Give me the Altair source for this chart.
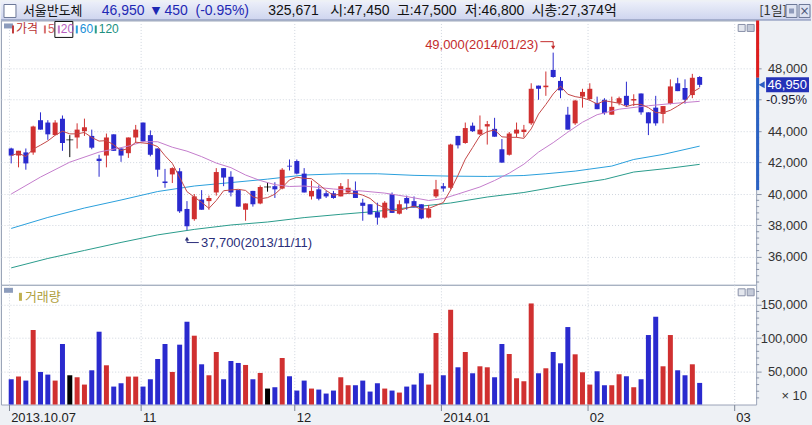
import altair as alt
import pandas as pd

# ---------------- values ----------------
stock_name = "서울반도체"
last_price = 46950
price_change = 450
change_pct = -0.95
last_volume = 325671
day_open = 47450
day_high = 47500
day_low = 46800
market_cap = "27,374억"
period_label = "[1일]"
prev_close = 47400
band_low = 40250

opens = [42900, 42450, 42650, 42650, 44700, 44550, 43750, 44800, 43450, 43600,
         44000, 43700, 42250, 42450, 43800, 42900, 42600, 43600, 44550, 43750,
         42900, 40800, 41250, 41450, 39050, 38400, 39650, 39550, 40100, 41650,
         41100, 40250, 39000, 40200, 39400, 40450, 40500, 40350, 41800, 42100,
         41300, 39850, 40300, 40050, 40050, 39850, 40100, 40200, 39450, 39350,
         38850, 38500, 40000, 38750, 39750, 39550, 39350, 38500, 39850, 40500,
         40400, 43700, 43250, 44350, 43800, 44300, 44150, 42850, 42500, 43850,
         43950, 44500, 46900, 46800, 47900, 47200, 45050, 44500, 46200, 46050,
         45800, 46000, 45050, 45800, 46250, 45950, 46400, 45200, 45500, 45100,
         45750, 47050, 46750, 46300, 47450]
highs = [42950, 42750, 42900, 44350, 45200, 44700, 44700, 45000, 43750, 44500,
         44800, 44100, 42500, 43850, 43800, 42900, 43600, 44400, 44550, 44050,
         42900, 41600, 41700, 41650, 39550, 40000, 40250, 39900, 41650, 41650,
         41450, 40250, 39400, 40200, 40550, 40700, 40750, 41650, 42200, 42200,
         41650, 40850, 40550, 40200, 40200, 40700, 40950, 40800, 39700, 39350,
         39450, 39550, 40100, 39600, 39900, 39850, 39350, 39300, 40900, 40700,
         43200, 43700, 44550, 44550, 45000, 44650, 44850, 43500, 43950, 44550,
         44400, 47050, 46900, 47800, 49000, 47450, 45550, 46000, 46700, 47050,
         46200, 46100, 46200, 46200, 47150, 46350, 46400, 45200, 46250, 45600,
         47300, 47400, 47300, 47650, 47500]
lows = [41950, 41700, 41550, 42500, 44100, 43450, 43750, 42750, 42350, 42900,
        43700, 42850, 41100, 41700, 42750, 42050, 42300, 43250, 43300, 42400,
        41100, 40400, 40700, 38800, 37700, 38300, 39000, 39000, 39900, 40500,
        39850, 39200, 38300, 39200, 39350, 40150, 39750, 40300, 41500, 41250,
        40100, 39650, 39600, 39750, 39700, 39850, 40050, 39750, 38300, 38700,
        38050, 38450, 38800, 38700, 39000, 39150, 38400, 38450, 39750, 40150,
        40300, 42900, 43200, 43950, 43750, 43150, 43650, 42000, 42450, 43600,
        43600, 44400, 46000, 46250, 47400, 46100, 44100, 44400, 45500, 45950,
        45400, 45050, 45050, 45650, 45550, 45600, 45050, 43750, 44350, 44500,
        45700, 46550, 45750, 46100, 46800]
closes = [42450, 42750, 41950, 44300, 44100, 43800, 44550, 43250, 43450, 44100,
          44250, 42950, 42100, 43600, 42750, 42450, 43600, 44100, 43350, 42500,
          41550, 40700, 41650, 38900, 37950, 39850, 39000, 39750, 41400, 41050,
          40100, 39200, 39400, 39350, 40450, 40450, 40300, 41550, 41750, 41300,
          40100, 40200, 39700, 39850, 39750, 40500, 40400, 39750, 39250, 38700,
          38500, 39450, 38800, 39350, 39400, 39150, 38450, 39050, 40300, 40350,
          43150, 43100, 44200, 44000, 44100, 44450, 43650, 42000, 43850, 44100,
          44100, 46700, 46700, 46900, 47450, 46600, 44100, 45950, 46500, 46700,
          45400, 45150, 45550, 46100, 45650, 46050, 45200, 44500, 44500, 45600,
          46850, 46550, 46000, 47400, 46950]
volumes = [38000, 42000, 36000, 112000, 49000, 45000, 36000, 91000, 44000, 41000,
           30000, 51500, 109500, 59000, 27000, 32000, 42000, 42000, 27000, 38000,
           68500, 91000, 49000, 90000, 124500, 103500, 60500, 44000, 79000, 38000,
           65500, 62500, 59500, 38000, 47500, 24000, 26000, 70000, 42500, 21000,
           36000, 24000, 22500, 16500, 21000, 41000, 29000, 29000, 36000, 19500,
           32000, 24000, 21000, 18000, 27000, 30000, 47000, 30000, 107500, 44000,
           142500, 56000, 79000, 47000, 57500, 56000, 41000, 91000, 76000, 39500,
           35000, 152000, 47000, 54500, 79000, 62000, 116500, 75500, 48500, 30000,
           50000, 29000, 29000, 45500, 42500, 26000, 38000, 104500, 132000, 57500,
           104500, 51500, 44000, 60500, 32500]

ma20_idx = [0, 4, 8, 12, 16, 18, 20, 22, 24, 26, 28, 30, 32, 34, 36, 38, 40, 44, 48, 51,
            54, 57, 59, 61, 64, 66, 68, 70, 72, 74, 76, 78, 80, 83, 87, 90, 94]
ma20_val = [40000, 41080, 42030, 42670, 43050, 43330, 43330, 42980, 42730, 42380,
            41970, 41680, 41210, 40860, 40600, 40480, 40510, 40320, 40190, 40060,
            39840, 39590, 39710, 40000, 40450, 40860, 41330, 41900, 42670, 43270,
            43940, 44570, 45050, 45400, 45620, 45750, 45900]
ma60_idx = [0, 5, 10, 15, 20, 25, 30, 35, 40, 45, 50, 55, 60, 65, 70, 73, 77, 82, 85, 89, 94]
ma60_val = [37810, 38510, 39110, 39620, 40160, 40510, 40730, 40950, 41210, 41290,
            41290, 41190, 41140, 41120, 41180, 41290, 41460, 41780, 42200, 42520, 43050]
ma120_idx = [0, 5, 10, 15, 20, 25, 30, 35, 40, 45, 50, 55, 60, 65, 70, 75, 81, 85, 90, 94]
ma120_val = [35300, 35900, 36410, 36920, 37400, 37750, 38030, 38220, 38500, 38710,
             38900, 39180, 39430, 39810, 40100, 40510, 40930, 41400, 41650, 41890]

month_idx = [0, 18, 39, 59, 79, 99]
month_labels = ["2013.10.07", "11", "12", "2014.01", "02", "03"]
price_ticks = [36000, 38000, 40000, 42000, 44000, 46000, 48000]
price_minor_step = 400
volume_ticks = [50000, 100000, 150000]
volume_minor_step = 10000

high_point = (74, 49000, "2014/01/23")
low_point = (24, 37700, "2013/11/11")

# ---------------- styling ----------------
FONT = "'Liberation Sans', Arial, 'Noto Sans CJK KR', sans-serif"
KFONT = "'Noto Sans CJK KR', 'Liberation Sans', sans-serif"
RED, BLUE, BLACK = "#d03030", "#2a2ace", "#000000"
MA5C, MA20C, MA60C, MA120C = "#c44848", "#c47ccc", "#2aa0dc", "#2a9c8c"
GRID = "#cfd5de"
FRAME = "#9aa4b8"
TICKC = "#8a94a8"
BG = "#eef1f5"
W, HP, HV = 757, 265, 120
XDOM = [-0.712, 101.03]
PDOM = [34222, 51047]
VDOM = [0, 180000]
PPX = (PDOM[1] - PDOM[0]) / HP
IPX = (XDOM[1] - XDOM[0]) / W
tick_pos = [m - 0.35 for m in month_idx]

df = pd.DataFrame({"i": list(range(len(opens))), "open": opens, "high": highs,
                   "low": lows, "close": closes, "volume": volumes})
df["dir"] = ["up" if c > o else ("down" if c < o else "flat") for o, c in zip(opens, closes)]
one = pd.DataFrame({"k": [0]})

color = alt.Color("dir:N", scale=alt.Scale(domain=["up", "down", "flat"], range=[RED, BLUE, BLACK]), legend=None)
xscale = alt.Scale(domain=XDOM, nice=False, zero=False)
px_axis = alt.Axis(values=tick_pos, labels=False, ticks=False, domain=False, grid=True,
                   gridDash=[1, 2], gridColor=GRID, title=None)
pscale = alt.Scale(domain=PDOM, nice=False, zero=False)
py_axis = alt.Axis(orient="right", values=price_ticks,
                   labelExpr="datum.value == 46000 ? '' : format(datum.value, ',')",
                   grid=True, gridDash=[1, 2], gridColor=GRID, domain=False, tickSize=5,
                   tickColor=TICKC, labelAlign="right", labelBaseline="middle", labelPadding=46,
                   labelFont=FONT, labelFontSize=13, labelColor="#333333", title=None)


def PX(field="i:Q"):
    return alt.X(field, scale=xscale, axis=px_axis)


def PY(field):
    return alt.Y(field, scale=pscale, axis=py_axis)


def text_at(data, txt, x, y, col, size=13, font=FONT, align="left"):
    return alt.Chart(data).mark_text(text=txt, align=align, baseline="middle", font=font,
                                     fontSize=size, color=col).encode(x=alt.value(x), y=alt.value(y))


def box_at(x1, x2, y1, y2, fill, stroke="", sw=1, fo=1.0):
    kw = dict(fill=fill, fillOpacity=fo)
    if stroke:
        kw.update(stroke=stroke, strokeWidth=sw)
    return alt.Chart(one).mark_rect(**kw).encode(x=alt.value(x1), x2=alt.value(x2),
                                                 y=alt.value(y1), y2=alt.value(y2))


# ---------------- header bar ----------------
grad = alt.LinearGradient(gradient="linear", x1=0, x2=0, y1=0, y2=1,
                          stops=[alt.GradientStop(color="#eceff9", offset=0),
                                 alt.GradientStop(color="#cdd4ee", offset=1)])
hb = "#1e28b4"
header = alt.layer(
    alt.Chart(one).mark_rect(color=grad).encode(x=alt.value(0), x2=alt.value(812), y=alt.value(0), y2=alt.value(19)),
    alt.Chart(one).mark_rule(color="#7d8bb0").encode(x=alt.value(0), x2=alt.value(812), y=alt.value(18.5)),
    box_at(3, 15, 3, 16, "white", "#6c7898"),
    text_at(one, stock_name, 22, 10, "#111111", 13, KFONT),
    text_at(one, f"{last_price:,}", 101, 10, hb, 14),
    text_at(one, "▼", 151, 10, hb, 11, "DejaVu Sans"),
    text_at(one, f"{price_change:,}", 164, 10, hb, 14),
    text_at(one, f"({change_pct:.2f}%)", 195, 10, hb, 14),
    text_at(one, f"{last_volume:,}", 268, 10, "#111111", 14),
    text_at(one, f"시:{day_open:,}", 330, 10, "#111111", 14),
    text_at(one, f"고:{day_high:,}", 397, 10, "#111111", 14),
    text_at(one, f"저:{day_low:,}", 465, 10, "#111111", 14),
    text_at(one, f"시총:{market_cap}", 532, 10, "#111111", 14),
    text_at(one, period_label, 760, 10, "#333333", 13, KFONT),
    box_at(787, 798, 3, 16, "#dfe4f2", "#6c7898"),
    box_at(800, 811, 3, 16, "#dfe4f2", "#6c7898"),
    text_at(one, "×", 805.5, 9.5, "#4a5678", 12, "DejaVu Sans", "center"),
    box_at(790, 795, 7, 12, "#8f9bbb"),
).properties(width=812, height=19, view=alt.ViewBackground(stroke="transparent"))

# ---------------- price panel ----------------
wicks = alt.Chart(df).mark_rule(strokeWidth=1).encode(x=PX(), y=PY("low:Q"), y2="high:Q", color=color)
bodies = alt.Chart(df).mark_bar(size=5).encode(x=PX(), y=PY("open:Q"), y2="close:Q", color=color)
doji = alt.Chart(df).transform_filter("datum.open == datum.close").mark_tick(
    orient="horizontal", size=7, thickness=1).encode(x=PX(), y=PY("close:Q"), color=color)
ma5 = alt.Chart(df).transform_window(ma5="mean(close)", frame=[-4, 0], sort=[alt.SortField("i")]).mark_line(
    color=MA5C, strokeWidth=1).encode(x=PX(), y=PY("ma5:Q"))


def ma_line(ix, vals, col):
    d = pd.DataFrame({"i": ix, "v": vals})
    return alt.Chart(d).mark_line(color=col, strokeWidth=1).encode(x=PX(), y=PY("v:Q"))


# minor ticks on the right-hand axes
p_minor = pd.DataFrame({"v": [v for v in range(34400, 51000, price_minor_step) if v % 2000 != 0]})
v_minor = pd.DataFrame({"v": [v for v in range(10000, 180000, volume_minor_step) if v % 50000 != 0]})
p_minor_ticks = alt.Chart(p_minor).mark_rule(color=TICKC, strokeWidth=1).encode(
    x=alt.value(757), x2=alt.value(760), y=PY("v:Q"))

cur_df = pd.DataFrame({"cur": [last_price], "pct": [f"{change_pct:.2f}%"]})
ind_df = pd.DataFrame({"a": [PDOM[1], prev_close], "b": [prev_close, band_low]})
indicator_red = alt.Chart(ind_df.iloc[[0]]).mark_rule(color="#e01c1c", strokeWidth=3).encode(
    x=alt.value(758.5), y=PY("a:Q"), y2="b:Q")
indicator_blue = alt.Chart(ind_df.iloc[[1]]).mark_rule(color="#2a62c4", strokeWidth=3).encode(
    x=alt.value(758.5), y=PY("a:Q"), y2="b:Q")
cur_box = alt.Chart(cur_df).transform_calculate(
    top=f"datum.cur + {7.5 * PPX}", bot=f"datum.cur - {7.5 * PPX}").mark_rect(color="#2432b8").encode(
    x=alt.value(767), x2=alt.value(810), y=PY("top:Q"), y2="bot:Q")
cur_tri = alt.Chart(cur_df).mark_point(shape="triangle-left", filled=True, size=50, color="#2a5cc4", opacity=1).encode(
    x=alt.value(762.5), y=PY("cur:Q"))
cur_txt = alt.Chart(cur_df).mark_text(align="right", baseline="middle", font=FONT, fontSize=13, color="white").encode(
    x=alt.value(808), y=PY("cur:Q"), text=alt.Text("cur:Q", format=","))
pct_txt = alt.Chart(cur_df).mark_text(align="right", baseline="middle", font=FONT, fontSize=13, dy=15,
                                      color="#222233").encode(x=alt.value(808), y=PY("cur:Q"), text="pct:N")

hi_i, hi_p, hi_d = high_point
lo_i, lo_p, lo_d = low_point
ann_df = pd.DataFrame({"i": [hi_i, lo_i], "p": [hi_p, lo_p],
                       "t": [f"{hi_p:,}({hi_d})", f"{lo_p:,}({lo_d})"]})
hi_txt = alt.Chart(ann_df.iloc[[0]]).mark_text(align="right", baseline="middle", font=FONT, fontSize=13,
                                                dx=-15, dy=-8, color="#c42c2c").encode(x=PX(), y=PY("p:Q"), text="t:N")
lo_txt = alt.Chart(ann_df.iloc[[1]]).mark_text(align="left", baseline="middle", font=FONT, fontSize=13,
                                                dx=14, dy=12.5, color="#2a2e7a").encode(x=PX(), y=PY("p:Q"), text="t:N")
hi_path = pd.DataFrame({"i": [hi_i - 13 * IPX, hi_i, hi_i], "p": [hi_p + 11 * PPX, hi_p + 11 * PPX, hi_p + 6 * PPX],
                        "o": [0, 1, 2]})
lo_path = pd.DataFrame({"i": [lo_i, lo_i, lo_i + 12 * IPX], "p": [lo_p - 8 * PPX, lo_p - 12.4 * PPX, lo_p - 12.4 * PPX],
                        "o": [0, 1, 2]})
hi_arrow = alt.Chart(hi_path).mark_line(color="#c42c2c", strokeWidth=1).encode(x=PX(), y=PY("p:Q"), order="o:Q")
lo_arrow = alt.Chart(lo_path).mark_line(color="#2a2e7a", strokeWidth=1).encode(x=PX(), y=PY("p:Q"), order="o:Q")
hi_head = alt.Chart(pd.DataFrame({"i": [hi_i], "p": [hi_p + 5 * PPX]})).mark_point(
    shape="triangle-down", filled=True, size=18, color="#c42c2c", opacity=1).encode(x=PX(), y=PY("p:Q"))
lo_head = alt.Chart(pd.DataFrame({"i": [lo_i], "p": [lo_p - 8.5 * PPX]})).mark_point(
    shape="triangle-up", filled=True, size=18, color="#2a2e7a", opacity=1).encode(x=PX(), y=PY("p:Q"))

legend_layers = [
    box_at(3, 12, 3, 8, "#8c9cbc"),
    box_at(11, 13, 5, 13, "#c03a3a"),
    text_at(one, "가격", 15, 9, "#b83434", 12, KFONT),
    box_at(43, 45, 5, 13, "#d87070"),
    text_at(one, "5", 47, 9, "#d06060", 12),
    box_at(54, 72, 1, 17, "white", "#111111", 1, 0.0),
    box_at(57, 59, 5, 13, "#c47ccc"),
    text_at(one, "20", 60, 9, "#b860c0", 12),
    box_at(75, 77, 5, 13, "#2aa0dc"),
    text_at(one, "60", 79, 9, "#2090d8", 12),
    box_at(94, 96, 5, 13, "#2a9c8c"),
    text_at(one, "120", 98, 9, "#209080", 12),
    box_at(739, 746, 4, 11, "#e4e7ee", "#8890a8"),
    box_at(748, 755, 4, 11, "#c4cad8", "#8890a8"),
]

price = alt.layer(
    ma_line(ma120_idx, ma120_val, MA120C),
    ma_line(ma60_idx, ma60_val, MA60C),
    wicks, bodies, doji,
    ma_line(ma20_idx, ma20_val, MA20C),
    ma5,
    hi_arrow, lo_arrow, hi_head, lo_head, hi_txt, lo_txt,
    p_minor_ticks,
    indicator_red, indicator_blue, cur_box, cur_tri, cur_txt, pct_txt,
    *legend_layers,
).properties(width=W, height=HP, view=alt.ViewBackground(fill="white", stroke=FRAME))

# ---------------- volume panel ----------------
label_expr = " : ".join(f"round(datum.value) == {m} ? '{lab}'" for m, lab in zip(month_idx, month_labels)) + " : ''"
vx_axis = alt.Axis(values=tick_pos, labelExpr=label_expr, grid=True, gridDash=[1, 2], gridColor=GRID,
                   domain=False, ticks=True, tickSize=6, tickColor="#7a8494", labelAlign="left",
                   labelBaseline="top", labelOffset=2, labelPadding=1, labelFlush=False, labelOverlap=False,
                   labelFont=FONT, labelFontSize=13, labelColor="#222222", title=None)
vscale = alt.Scale(domain=VDOM, nice=False)
vy_axis = alt.Axis(orient="right", values=volume_ticks, labelExpr="format(datum.value, ',')",
                   grid=True, gridDash=[1, 2], gridColor=GRID,
                   domain=False, tickSize=5, tickColor=TICKC, labelAlign="right", labelBaseline="middle",
                   labelPadding=46, labelFont=FONT, labelFontSize=13, labelColor="#333333", title=None)
vol_bars = alt.Chart(df).mark_bar(size=5).encode(
    x=alt.X("i:Q", scale=xscale, axis=vx_axis),
    y=alt.Y("volume:Q", scale=vscale, axis=vy_axis),
    color=color)
v_minor_ticks = alt.Chart(v_minor).mark_rule(color=TICKC, strokeWidth=1).encode(
    x=alt.value(757), x2=alt.value(760), y=alt.Y("v:Q", scale=vscale, axis=vy_axis))
volume = alt.layer(
    vol_bars,
    v_minor_ticks,
    box_at(3, 12, 3, 8, "#8c9cbc"),
    box_at(18, 21, 8, 16, "#c0b050"),
    text_at(one, "거래량", 24, 12, "#b0a040", 13, KFONT),
    box_at(739, 746, 4, 11, "#e4e7ee", "#8890a8"),
    box_at(748, 755, 4, 11, "#c4cad8", "#8890a8"),
    text_at(one, "× 10", 808, 111, "#333333", 13, FONT, "right"),
).properties(width=W, height=HV, view=alt.ViewBackground(fill="white", stroke=FRAME))

chart = alt.vconcat(header, price, volume, spacing=0, bounds="flush").properties(background=BG, padding=0)
chart.save("out.html", embed_options={"renderer": "svg", "actions": False})
